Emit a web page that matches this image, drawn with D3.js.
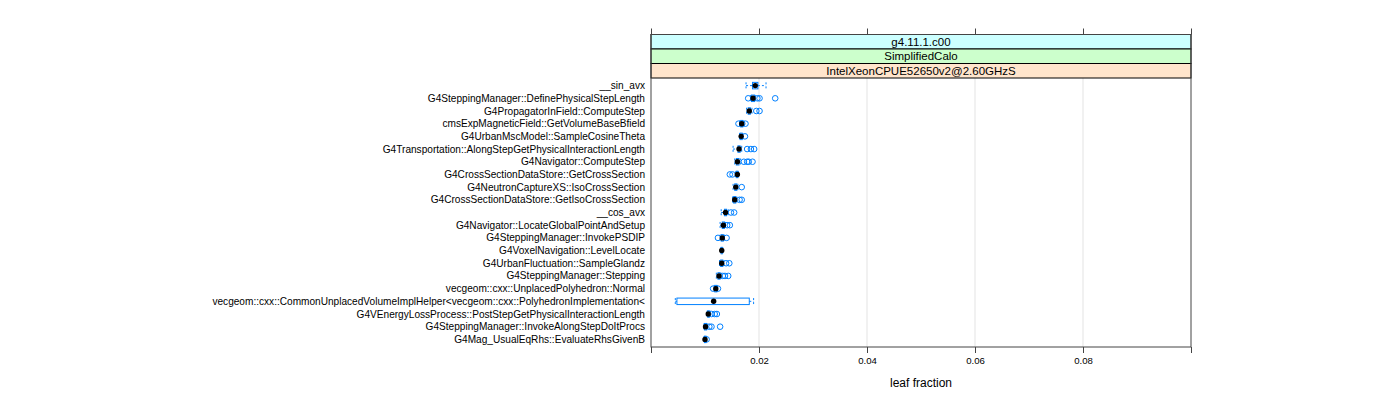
<!DOCTYPE html>
<html><head><meta charset="utf-8">
<script src="https://cdn.jsdelivr.net/npm/d3@7"></script>
<style>body{margin:0;background:#fff}svg{display:block}text{font-family:"Liberation Sans",Arial,sans-serif}</style>
</head><body>
<script>
const categories = ["__sin_avx","G4SteppingManager::DefinePhysicalStepLength","G4PropagatorInField::ComputeStep","cmsExpMagneticField::GetVolumeBaseBfield","G4UrbanMscModel::SampleCosineTheta","G4Transportation::AlongStepGetPhysicalInteractionLength","G4Navigator::ComputeStep","G4CrossSectionDataStore::GetCrossSection","G4NeutronCaptureXS::IsoCrossSection","G4CrossSectionDataStore::GetIsoCrossSection","__cos_avx","G4Navigator::LocateGlobalPointAndSetup","G4SteppingManager::InvokePSDIP","G4VoxelNavigation::LevelLocate","G4UrbanFluctuation::SampleGlandz","G4SteppingManager::Stepping","vecgeom::cxx::UnplacedPolyhedron::Normal","vecgeom::cxx::CommonUnplacedVolumeImplHelper<vecgeom::cxx::PolyhedronImplementation<","G4VEnergyLossProcess::PostStepGetPhysicalInteractionLength","G4SteppingManager::InvokeAlongStepDoItProcs","G4Mag_UsualEqRhs::EvaluateRhsGivenB"];
const medians = [0.0193,0.0189,0.0182,0.0168,0.0167,0.0163,0.0160,0.0160,0.0157,0.0155,0.0138,0.0134,0.0132,0.0131,0.0131,0.0126,0.0120,0.0116,0.0106,0.0101,0.0100];
const q1 = [0.0188,0.0186,0.0180,0.0166,0.0165,0.0161,0.0158,0.0158,0.0155,0.0153,0.0136,0.0132,0.0130,0.0130,0.0129,0.0124,0.0118,0.0048,0.0105,0.0099,0.0099];
const q3 = [0.0198,0.0192,0.0184,0.0170,0.0169,0.0165,0.0163,0.0161,0.0159,0.0157,0.0140,0.0136,0.0134,0.0132,0.0133,0.0128,0.0122,0.0182,0.0108,0.0103,0.0102];
const whiskerLo = [0.0176,0.0184,0.0177,0.0164,0.0164,0.0152,0.0155,0.0157,0.0152,0.0151,0.0130,0.0128,0.0128,0.0129,0.0127,0.0121,0.0117,0.0045,0.0104,0.0098,0.0098];
const whiskerHi = [0.0213,0.0193,0.0187,0.0172,0.0170,0.0168,0.0166,0.0162,0.0161,0.0159,0.0143,0.0138,0.0136,0.0133,0.0135,0.0130,0.0123,0.0190,0.0110,0.0105,0.0103];
const outliers = [[],[0.0180,0.0197,0.0201,0.0230],[0.0195,0.0201],[0.0162,0.0169,0.0175],[0.0174],[0.0178,0.0185,0.0191],[0.0172,0.0178,0.0181,0.0188],[0.0146,0.0151],[0.0168],[0.0164,0.0168],[0.0148,0.0154],[0.0141,0.0146],[0.0124,0.0140],[],[0.0139,0.0145],[0.0133,0.0137,0.0143],[0.0115,0.0124],[],[0.0112,0.0118,0.0122],[0.0108,0.0112,0.0128],[0.0103]];
const xTicks = [0,0.02,0.04,0.06,0.08,0.1];
const xTickLabels = ["","0.02","0.04","0.06","0.08",""];
const strips = ["g4.11.1.c00","SimplifiedCalo","IntelXeonCPUE52650v2@2.60GHzS"];
const stripColors = ["#ccffff","#ccffcc","#ffe5cc"];
const xLabel = "leaf fraction";

const W = 1400, H = 400;
const L = 651, R = 1191, PT = 78, PB = 347, stripTop = 34.5, stripH = (PT - stripTop) / strips.length;
const blue = "#0080ff";

const svg = d3.select("body").append("svg").attr("width", W).attr("height", H);
const x = d3.scaleLinear().domain([0, 0.1]).range([L, R]);
const y = d3.scaleLinear().domain([0.4, categories.length + 0.6]).range([PT, PB]);

// grid
svg.append("g").selectAll("line").data(xTicks.slice(1, -1)).join("line")
  .attr("x1", d => x(d)).attr("x2", d => x(d)).attr("y1", PT).attr("y2", PB)
  .attr("stroke", "#e8e8e8").attr("stroke-width", 1.2);

// strips
strips.forEach((s, i) => {
  const y0 = stripTop + i * stripH;
  svg.append("rect").attr("x", L).attr("y", y0).attr("width", R - L).attr("height", stripH)
    .attr("fill", stripColors[i]).attr("stroke", "#000").attr("stroke-width", 1);
  svg.append("text").attr("x", (L + R) / 2).attr("y", y0 + stripH / 2).attr("dy", "0.35em")
    .attr("text-anchor", "middle").attr("font-size", 11.5).text(s);
});

// axes
const axisB = d3.axisBottom(x).tickValues(xTicks).tickFormat((d, i) => xTickLabels[i]).tickSize(6).tickPadding(4);
const gb = svg.append("g").attr("transform", `translate(0,${PB})`).call(axisB);
gb.select(".domain").remove();
gb.selectAll("line").attr("stroke", "#444");
gb.selectAll("text").attr("font-size", 9.6).attr("fill", "#000").attr("font-family", '"Liberation Sans",Arial,sans-serif');
const axisT = d3.axisTop(x).tickValues(xTicks).tickFormat("").tickSize(6);
const gt = svg.append("g").attr("transform", `translate(0,${stripTop})`).call(axisT);
gt.select(".domain").remove();
gt.selectAll("line").attr("stroke", "#444");

// panel border
svg.append("rect").attr("x", L).attr("y", stripTop).attr("width", R - L).attr("height", PB - stripTop)
  .attr("fill", "none").attr("stroke", "#444").attr("stroke-width", 1);

// y labels
svg.append("g").selectAll("text").data(categories).join("text")
  .attr("x", L - 6).attr("y", (d, i) => y(i + 1)).attr("dy", "0.35em")
  .attr("text-anchor", "end").attr("font-size", 10.1).text(d => d);

// boxes
const bh = 6.5;
const g = svg.append("g");
categories.forEach((c, i) => {
  const cy = y(i + 1);
  g.append("line").attr("x1", x(whiskerLo[i])).attr("x2", x(q1[i])).attr("y1", cy).attr("y2", cy)
    .attr("stroke", blue).attr("stroke-dasharray", "2,2");
  g.append("line").attr("x1", x(q3[i])).attr("x2", x(whiskerHi[i])).attr("y1", cy).attr("y2", cy)
    .attr("stroke", blue).attr("stroke-dasharray", "2,2");
  [whiskerLo[i], whiskerHi[i]].forEach(v => {
    g.append("line").attr("x1", x(v)).attr("x2", x(v)).attr("y1", cy - bh / 2).attr("y2", cy + bh / 2)
      .attr("stroke", blue).attr("stroke-dasharray", "2,2");
  });
  g.append("rect").attr("x", x(q1[i])).attr("y", cy - bh / 2).attr("width", x(q3[i]) - x(q1[i])).attr("height", bh)
    .attr("fill", "none").attr("stroke", blue);
  outliers[i].forEach(v => {
    g.append("circle").attr("cx", x(v)).attr("cy", cy).attr("r", 2.8).attr("fill", "none").attr("stroke", blue).attr("stroke-width", 1);
  });
  g.append("circle").attr("cx", x(medians[i])).attr("cy", cy).attr("r", 2.7).attr("fill", "#000");
});

svg.append("text").attr("x", (L + R) / 2).attr("y", 383).attr("dy", "0.35em").attr("text-anchor", "middle")
  .attr("font-size", 12).text(xLabel);
</script>
</body></html>
